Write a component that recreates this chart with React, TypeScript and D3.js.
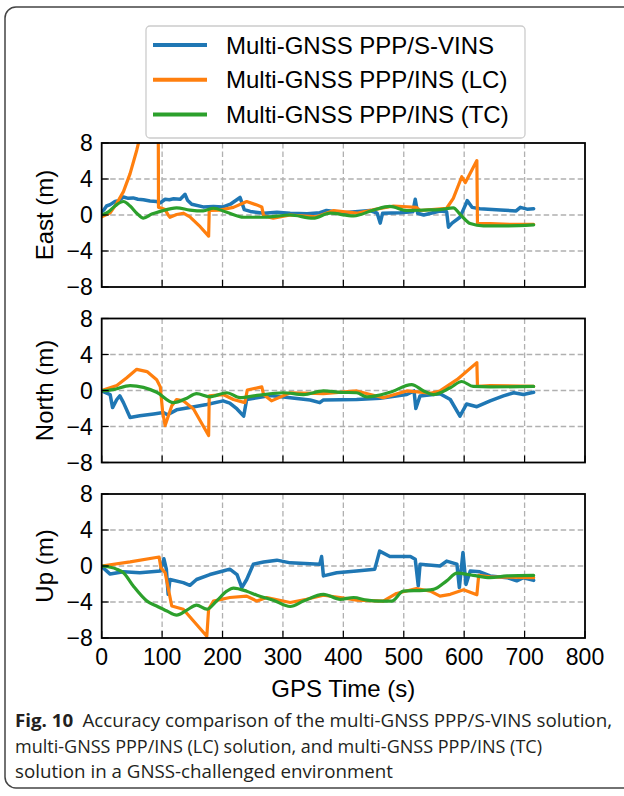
import React from "react";
import * as d3 from "d3";

type P = [number, number];

const seriesNames = [
  "Multi-GNSS PPP/S-VINS",
  "Multi-GNSS PPP/INS (LC)",
  "Multi-GNSS PPP/INS (TC)",
];
const seriesColors = ["#1f77b4", "#ff7f0e", "#2ca02c"];
const panelLabels = ["East (m)", "North (m)", "Up (m)"];
const xTicks = [0, 100, 200, 300, 400, 500, 600, 700, 800];
const yTicks = [-8, -4, 0, 4, 8];
const captionLines = [
  "Accuracy comparison of the multi-GNSS PPP/S-VINS solution,",
  "multi-GNSS PPP/INS (LC) solution, and multi-GNSS PPP/INS (TC)",
  "solution in a GNSS-challenged environment",
];

const eastSVINS: P[] = [
  [0, 0.37], [4, 0.6], [8, 1.0], [14, 1.15], [22, 1.5], [28, 1.6], [36, 2.0], [44, 1.85],
  [52, 1.9], [60, 1.75], [69, 1.7], [80, 1.55], [91, 1.5], [97, 1.35],
  [105, 1.75], [112, 1.7], [119, 1.8], [130, 1.75], [138, 2.3], [142, 1.65], [149, 1.2], [168, 0.9],
  [185, 0.95], [201, 0.9], [213, 1.2], [229, 1.95], [236, 0.6], [246, 0.4], [268, 0.2], [290, 0.3],
  [312, 0.2], [340, 0.15], [361, 0.25], [372, 0.5], [400, 0.25], [444, 0.5], [456, 0.2],
  [461, -0.9], [465, 0.2], [494, 0.25], [515, 0.35], [519, 1.75], [523, 0.2], [533, 0],
  [560, 0.45], [571, 0.35], [574, -1.35], [580, -0.9], [593, -0.25], [602, 1.1], [605, 1.6],
  [613, 0.85], [626, 0.7], [660, 0.55], [686, 0.45], [693, 0.85], [704, 0.65], [715, 0.7],
];
const eastLC: P[] = [
  [0, -0.2], [14, 0.25], [25, 1.3], [36, 2.6], [47, 4.6], [58, 7.2], [66, 9.4], [75, 13],
  [80, 14], [93.5, 14], [94, 0.85], [97, 0.8], [105, 0.6], [110, 0], [113, -0.25],
  [124, 0.05], [135, 0.2], [146, -0.2], [163, -1.3], [177, -2.35], [178, 0.5], [196, 0.55],
  [218, 0.85], [240, 1.5], [257, 1.1], [265, 0.9], [268, -0.1], [284, -0.35], [312, 0],
  [356, -0.2], [384, 0.5], [422, 0.2], [455, 0.65], [483, 1.0], [521, 0.85], [527, 0.5],
  [571, 0.75], [582, 1.85], [596, 4.25], [602, 3.6], [621, 6.05], [622, -0.95], [643, -0.95],
  [676, -1.05], [715, -1.05],
];
const eastTC: P[] = [
  [0, 0], [11, 0.35], [22, 1.0], [36, 1.5], [47, 1.0], [58, 0.2], [69, -0.35], [83, 0.1],
  [97, 0.4], [124, 0.8], [146, 0.55], [168, 0.45], [185, 0.75], [207, 0.3], [235, -0.25],
  [268, -0.25], [312, 0], [350, -0.35], [378, 0.2], [417, -0.1], [450, 0.55], [477, 0.95],
  [505, 0.5], [533, 0.55], [560, 0.6], [582, 0.8], [593, 0.1], [610, -0.95], [632, -1.2],
  [671, -1.2], [715, -1.1],
];

const northSVINS: P[] = [
  [0, -0.05], [14, -0.45], [18, -1.9], [25, -1.0], [30, -0.6], [36, -1.35], [47, -3.0],
  [63, -2.8], [86, -2.6], [102, -2.45], [109, -2.7], [124, -2.15], [146, -1.9], [174, -1.55],
  [201, -1.15], [212, -1.4], [224, -2.05], [235, -2.85], [240, -1.0], [257, -0.8],
  [279, -0.55], [312, -0.8], [345, -1.05], [361, -1.35], [367, -1.05], [422, -1.0],
  [461, -0.85], [505, -0.45], [517, -0.05], [520, -2.0], [527, -0.6], [560, -0.35],
  [577, -1.0], [593, -2.85], [604, -1.5], [621, -1.8], [643, -1.15], [665, -0.6],
  [682, -0.25], [698, -0.45], [715, -0.2],
];
const northLC: P[] = [
  [0, 0], [25, 0.55], [41, 1.4], [58, 2.35], [75, 2.1], [91, 1.2], [97, 0.4], [101, -2.45],
  [105, -3.9], [116, -1.7], [124, -1.0], [135, -1.15], [152, -2.05], [177, -5.0],
  [178, -0.6], [201, -0.45], [218, -1.0], [237, -1.35], [241, 0.05], [265, 0.4],
  [268, -0.45], [281, -1.15], [312, -0.25], [367, -0.35], [422, -0.05], [466, -0.8],
  [505, -0.05], [544, -0.3], [560, -0.05], [588, 1.2], [621, 3.1], [622, 0.45], [643, 0.55],
  [715, 0.45],
];
const northTC: P[] = [
  [0, -0.05], [19, 0.1], [47, 0.55], [69, 0.35], [91, -0.2], [119, -1.35], [141, -0.85],
  [157, -0.35], [179, -0.7], [207, -0.25], [229, -0.8], [257, -0.55], [301, -0.25],
  [334, -0.45], [367, -0.05], [395, -0.2], [422, -0.25], [439, -0.7], [477, -0.2],
  [513, 0.65], [533, -0.05], [549, -0.45], [577, 0.3], [596, 1.0], [615, 0.45], [643, 0.4],
  [715, 0.45],
];

const upSVINS: P[] = [
  [0, -0.05], [14, -0.9], [36, -0.65], [63, -0.75], [97, -0.55], [103, 0.8], [107, -0.35],
  [110, -3.15], [113, -1.5], [135, -1.85], [146, -2.15], [157, -1.5], [179, -0.95],
  [201, -0.55], [212, -0.35], [224, -0.95], [232, -2.4], [240, -1.5], [251, 0.2], [268, 0.45],
  [290, 0.65], [312, 0.35], [361, 0.2], [364, 1.05], [367, -1.1], [389, -0.75], [422, -0.55],
  [452, -0.35], [460, 1.65], [477, 1.05], [511, 1.05], [519, 0.75], [524, -2.2], [527, 0.2],
  [560, 0], [571, 0.55], [588, 0.2], [592, -2.4], [598, 1.5], [603, -2.05], [610, -0.55],
  [626, -0.65], [643, -1.1], [671, -1.3], [687, -1.65], [698, -1.3], [715, -1.6],
];
const upLC: P[] = [
  [0, 0], [47, 0.45], [95, 1.0], [98, -0.2], [105, -0.75], [116, -4.45], [135, -4.8],
  [174, -7.8], [177, -4.8], [185, -3.9], [212, -3.5], [240, -3.35], [257, -3.9], [273, -3.5],
  [312, -4.05], [339, -3.7], [367, -3.25], [395, -3.5], [422, -3.8], [466, -3.9], [488, -3.05],
  [521, -2.5], [544, -2.8], [560, -3.35], [577, -3.15], [599, -2.65], [621, -3.2],
  [624, -1.05], [643, -1.2], [715, -1.3],
];
const upTC: P[] = [
  [0, 0], [25, -0.35], [36, -0.75], [52, -2.2], [75, -3.9], [91, -4.45], [108, -5.0],
  [124, -5.45], [141, -4.9], [157, -4.35], [174, -4.8], [190, -3.9], [207, -2.8],
  [218, -2.45], [240, -2.8], [257, -3.25], [284, -3.8], [312, -4.5], [334, -3.9],
  [367, -3.15], [395, -3.7], [417, -3.5], [439, -3.8], [461, -3.9], [480, -3.9], [499, -2.8],
  [533, -2.7], [549, -2.6], [571, -1.65], [588, -0.8], [615, -1.05], [643, -1.3],
  [671, -1.1], [715, -1.05],
];

const panelData: P[][][] = [
  [eastSVINS, eastLC, eastTC],
  [northSVINS, northLC, northTC],
  [upSVINS, upLC, upTC],
];

const FONT = "'Liberation Sans', Arial, sans-serif";
const CAP_FONT = "'Open Sans', 'Noto Sans', sans-serif";

export default function App() {
  const W = 624;
  const H = 796;
  const left = 101.7;
  const right = 585;
  const panelTops = [143, 318.5, 494];
  const ph = 144;
  const x = d3.scaleLinear().domain([0, 800]).range([left, right]);

  return (
    <svg
      width={W}
      height={H}
      style={{ position: "absolute", left: 0, top: 0, background: "#fff" }}
      fontFamily={FONT}
    >
      <rect x={0} y={0} width={W} height={H} fill="#fff" />
      <rect x={5} y={7} width={660} height={781} rx={11} fill="none" stroke="#444" strokeWidth={1.5} />

      {panelTops.map((top, pi) => {
        const y = d3.scaleLinear().domain([-8, 8]).range([top + ph, top]);
        const line = d3
          .line<P>()
          .x((d) => x(d[0]))
          .y((d) => y(d[1]));
        const smooth = d3
          .line<P>()
          .x((d) => x(d[0]))
          .y((d) => y(d[1]))
          .curve(d3.curveMonotoneX);
        const clipId = `clip${pi}`;
        return (
          <g key={pi}>
            <defs>
              <clipPath id={clipId}>
                <rect x={left} y={top} width={right - left} height={ph} />
              </clipPath>
            </defs>
            {xTicks.slice(1, -1).map((t) => (
              <line key={"gx" + t} x1={x(t)} x2={x(t)} y1={top} y2={top + ph}
                stroke="#b0b0b0" strokeWidth={1.3} strokeDasharray="5.5,3" />
            ))}
            {yTicks.slice(1, -1).map((t) => (
              <line key={"gy" + t} x1={left} x2={right} y1={y(t)} y2={y(t)}
                stroke="#b0b0b0" strokeWidth={1.3} strokeDasharray="5.5,3" />
            ))}
            <g clipPath={`url(#${clipId})`}>
              {panelData[pi].map((s, si) => (
                <path key={si} d={(si === 2 ? smooth(s) : line(s)) || ""} fill="none"
                  stroke={seriesColors[si]} strokeWidth={si === 0 ? 3.5 : 3.2}
                  strokeLinejoin="round" strokeLinecap="round" />
              ))}
            </g>
            {xTicks.map((t) => (
              <line key={"tx" + t} x1={x(t)} x2={x(t)} y1={top + ph} y2={top + ph - 7}
                stroke="#000" strokeWidth={1.2} />
            ))}
            {yTicks.map((t) => (
              <line key={"ty" + t} x1={left} x2={left + 7} y1={y(t)} y2={y(t)}
                stroke="#000" strokeWidth={1.2} />
            ))}
            <rect x={left} y={top} width={right - left} height={ph} fill="none" stroke="#000" strokeWidth={1.8} />
            {yTicks.map((t) => (
              <text key={"ly" + t} x={left - 9} y={y(t)} textAnchor="end" dominantBaseline="central"
                fontSize={23} fill="#000">
                {t < 0 ? "\u2212" + Math.abs(t) : String(t)}
              </text>
            ))}
            <text transform={`translate(53,${top + ph / 2}) rotate(-90)`} textAnchor="middle"
              fontSize={24} fill="#000">
              {panelLabels[pi]}
            </text>
            {pi === 2 &&
              xTicks.map((t) => (
                <text key={"lx" + t} x={x(t)} y={665} textAnchor="middle" fontSize={23} fill="#000">
                  {t}
                </text>
              ))}
          </g>
        );
      })}

      <text x={(left + right) / 2} y={697} textAnchor="middle" fontSize={24} fill="#000">
        GPS Time (s)
      </text>

      <g>
        <rect x={146} y={26} width={379} height={112} rx={4} fill="#fff" stroke="#cccccc" strokeWidth={1.3} />
        {seriesNames.map((n, i) => (
          <g key={n}>
            <line x1={153} x2={207} y1={45 + i * 34.7} y2={45 + i * 34.7}
              stroke={seriesColors[i]} strokeWidth={4} />
            <text x={226} y={45 + i * 34.7} dominantBaseline="central" fontSize={24} fill="#000">
              {n}
            </text>
          </g>
        ))}
      </g>

      <g fontFamily={CAP_FONT} fontSize={18.5} fill="#231f20">
        <text x={15} y={727} textLength={597} lengthAdjust="spacingAndGlyphs">
          <tspan fontWeight="bold">Fig. 10</tspan>
          <tspan dx={9}>{captionLines[0]}</tspan>
        </text>
        <text x={15} y={752.5} textLength={527} lengthAdjust="spacingAndGlyphs">
          {captionLines[1]}
        </text>
        <text x={15} y={778} textLength={378} lengthAdjust="spacingAndGlyphs">
          {captionLines[2]}
        </text>
      </g>
    </svg>
  );
}
